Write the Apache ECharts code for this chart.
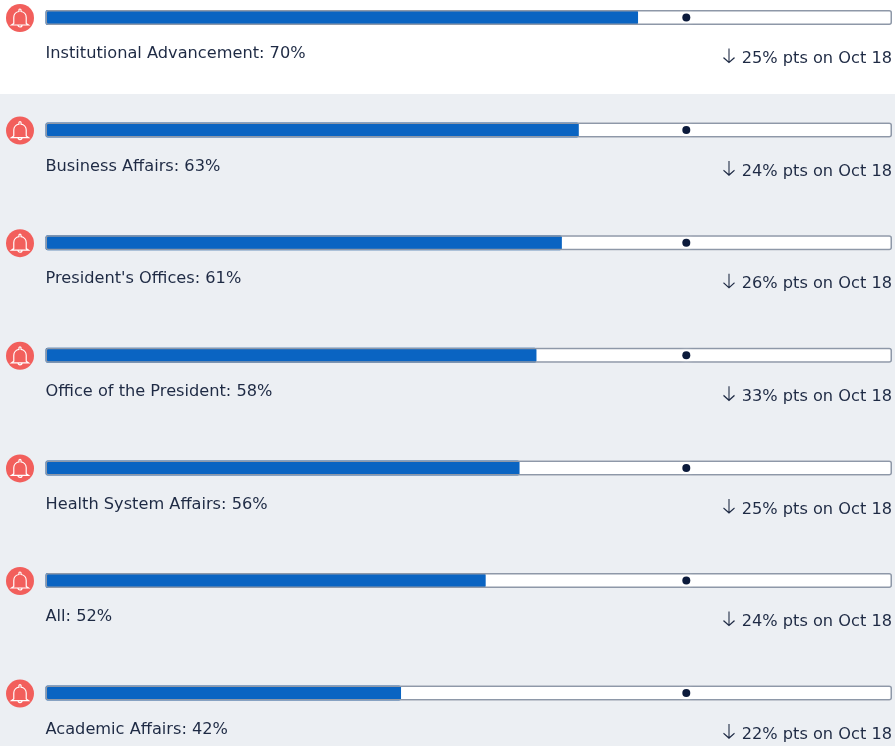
<!DOCTYPE html>
<html><head><meta charset="utf-8">
<style>html,body{margin:0;padding:0;background:#fff}#c{width:895px;height:746px}</style>
<script src="https://cdn.jsdelivr.net/npm/echarts@6/dist/echarts.min.js"></script>
</head><body><div id="c"></div>
<script>
const categories = ["Institutional Advancement","Business Affairs","President's Offices","Office of the President","Health System Affairs","All","Academic Affairs"];
const values = [70,63,61,58,56,52,42];
const drops = [25,24,26,33,25,24,22];
const target = [75.7,75.7,75.7,75.7,75.7,75.7,75.7];
const trackMax = [100,100,100,100,100,100,100];
const axisStart = [0,0,0,0,0,0,0];

const FONT = '"DejaVu Sans", sans-serif';
const TEXT = '#1E2A44';
const BELL = 'path://M6 17V11a6 6 0 0 1 5-5.9V3.6a1 1 0 0 1 2 0V5.1a6 6 0 0 1 5 5.9V17l2.2 1.6H3.8ZM10 18.6a2 2 0 0 0 4 0';
const ARROW = 'path://M12 2V22M5 15L12 22L19 15';

const chart = echarts.init(document.getElementById('c'), null, {renderer:'canvas'});
chart.setOption({
  animation:false,
  backgroundColor:'#fff',
  graphic:[{type:'rect',z:-10,silent:true,shape:{x:0,y:94,width:895,height:652},style:{fill:'#ECEFF3'}}],
  grid:{left:45.5,right:3,top:-38.8,height:788.2,containLabel:false,outerBoundsMode:'none'},
  xAxis:{type:'value',min:0,max:100,show:false},
  yAxis:{type:'category',data:categories,inverse:true,show:false},
  series:[
    {type:'bar',name:'Share',data:values,barWidth:15,barGap:'-100%',z:2,
     itemStyle:{color:'#0A64C2',borderRadius:2},
     showBackground:true,backgroundStyle:{color:'#fff',borderRadius:2}},
    {type:'bar',name:'Frame',data:trackMax,barWidth:15,barGap:'-100%',z:3,silent:true,
     itemStyle:{color:'rgba(0,0,0,0)',borderColor:'#8E98A8',borderWidth:1.5,borderRadius:2}},
    {type:'scatter',name:'Target',z:5,symbol:'circle',symbolSize:8,
     data:target.map((v,i)=>[v,categories[i]]),
     itemStyle:{opacity:1,color:'#0B1A3B',shadowColor:'rgba(255,255,255,0.95)',shadowBlur:5}},
    {type:'scatter',name:'Alert',z:5,clip:false,symbol:'circle',symbolSize:28,symbolOffset:[-25.5,0.5],
     data:axisStart.map((v,i)=>[v,categories[i]]),
     itemStyle:{opacity:1,color:'#F25F5C'}},
    {type:'scatter',name:'Bell',z:6,clip:false,symbol:BELL,symbolSize:[17,18],symbolOffset:[-25.5,0.5],
     data:axisStart.map((v,i)=>[v,categories[i]]),
     itemStyle:{opacity:1,color:'rgba(0,0,0,0)',borderColor:'#fff',borderWidth:1.2}},
    {type:'scatter',name:'Names',z:6,clip:false,symbolSize:0,
     data:axisStart.map((v,i)=>[v,categories[i]]),
     itemStyle:{opacity:1},
     label:{show:true,position:'right',distance:0,offset:[0,36.5],fontFamily:FONT,fontSize:16.2,color:TEXT,
       formatter:p=>categories[p.dataIndex]+': '+values[p.dataIndex]+'%'}},
    {type:'scatter',name:'Change',z:6,clip:false,symbolSize:0,
     data:trackMax.map((v,i)=>[v,categories[i]]),
     itemStyle:{opacity:1},
     label:{show:true,position:'left',distance:0,offset:[0,41.5],fontFamily:FONT,fontSize:16.2,color:TEXT,
       formatter:p=>drops[p.dataIndex]+'% pts on Oct 18'}},
    {type:'scatter',name:'Arrow',z:6,clip:false,symbol:ARROW,symbolSize:[11,14],symbolOffset:[-163,38],
     data:trackMax.map((v,i)=>[v,categories[i]]),
     itemStyle:{opacity:1,color:'rgba(0,0,0,0)',borderColor:TEXT,borderWidth:1.2}}
  ]
});
</script></body></html>
